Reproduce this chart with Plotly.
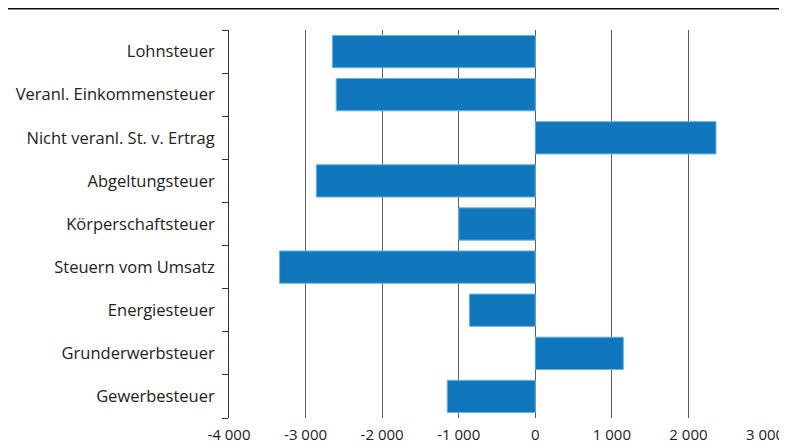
import plotly.graph_objects as go

categories = [
    "Lohnsteuer",
    "Veranl. Einkommensteuer",
    "Nicht veranl. St. v. Ertrag",
    "Abgeltungsteuer",
    "Körperschaftsteuer",
    "Steuern vom Umsatz",
    "Energiesteuer",
    "Grunderwerbsteuer",
    "Gewerbesteuer",
]
values = [-2650, -2600, 2360, -2860, -1000, -3340, -860, 1150, -1150]
tick_vals = [-4000, -3000, -2000, -1000, 0, 1000, 2000, 3000]
tick_text = ["-4 000", "-3 000", "-2 000", "-1 000", "0", "1 000", "2 000", "3 000"]

bar = go.Bar(
    x=values,
    y=categories,
    orientation="h",
    marker=dict(color="#1077bd", line=dict(color="#6fb3e6", width=1)),
    width=0.75,
)

# page adds ~8px body margin, so the figure is a bit smaller than the window
W, H = 779, 440
L, R, T, B = 221, 22, 22, 30
pw, ph = W - L - R, H - T - B

fig = go.Figure(data=[bar])
fig.update_xaxes(
    range=[-4000, 3000],
    tickvals=tick_vals,
    ticktext=tick_text,
    showgrid=True,
    gridcolor="#5e5e5e",
    gridwidth=1,
    zeroline=False,
    showline=False,
    ticks="",
    automargin=False,
    ticklabelstandoff=6,
    tickfont=dict(size=15, color="#222222"),
)
fig.update_yaxes(
    categoryorder="array",
    categoryarray=categories[::-1],
    autorange=True,
    tickson="boundaries",
    ticks="outside",
    ticklen=6,
    tickcolor="#333333",
    showline=True,
    linecolor="#333333",
    linewidth=1,
    showgrid=False,
    automargin=False,
    ticklabelstandoff=10,
    tickfont=dict(size=16.5, color="#222222"),
)
fig.update_layout(
    width=W,
    height=H,
    margin=dict(l=L, r=R, t=T, b=B),
    plot_bgcolor="white",
    paper_bgcolor="white",
    font=dict(family="Open Sans, sans-serif"),
    showlegend=False,
    bargap=0.25,
    shapes=[
        dict(
            type="line",
            xref="paper",
            yref="paper",
            x0=-L / pw,
            x1=(W - L) / pw,
            y0=1 + (T - 0.5) / ph,
            y1=1 + (T - 0.5) / ph,
            line=dict(color="#111111", width=2),
        )
    ],
)

fig.write_html("out.html")
